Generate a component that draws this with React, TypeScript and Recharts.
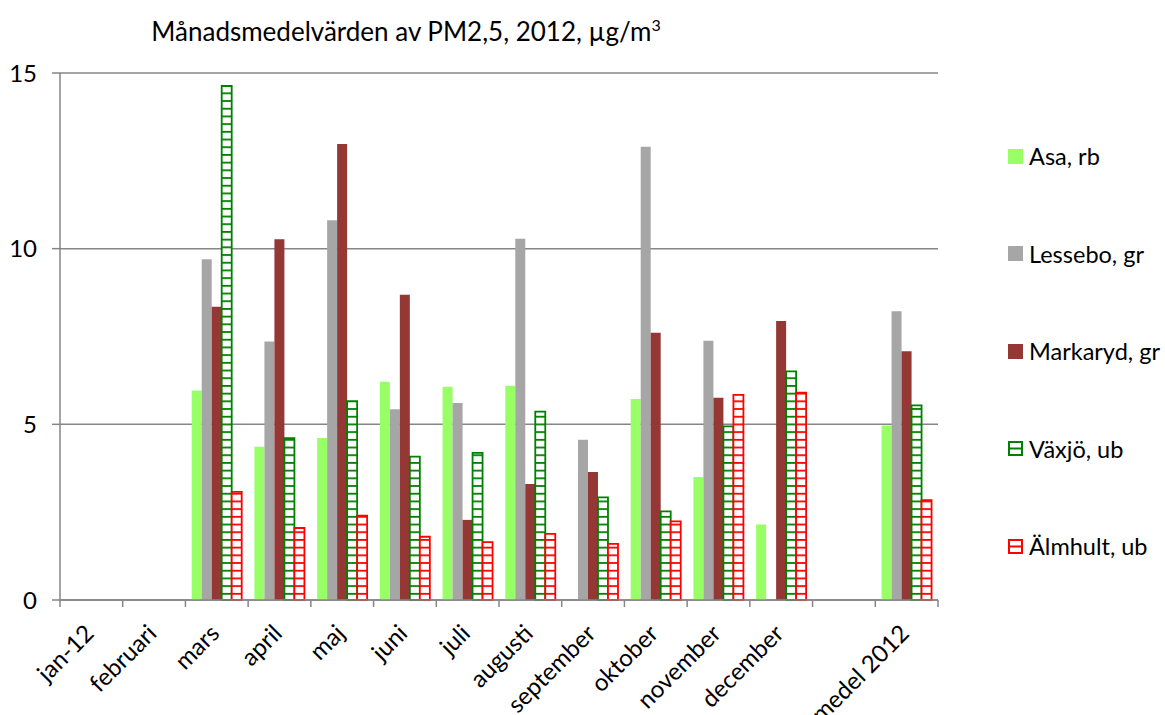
import React from "react";
import { Bar, BarChart, CartesianGrid, XAxis, YAxis } from "recharts";

// Monthly means of PM2.5, µg/m³, per station (null = no data)
const months = [
  "jan-12", "februari", "mars", "april", "maj", "juni", "juli",
  "augusti", "september", "oktober", "november", "december", "", "medel 2012",
];
const asa = [null, null, 5.96, 4.36, 4.61, 6.21, 6.07, 6.1, null, 5.72, 3.5, 2.15, null, 4.97];
const lessebo = [null, null, 9.7, 7.36, 10.81, 5.43, 5.61, 10.28, 4.56, 12.9, 7.38, null, null, 8.22];
const markaryd = [null, null, 8.35, 10.27, 12.98, 8.69, 2.28, 3.3, 3.64, 7.61, 5.76, 7.94, null, 7.08];
const vaxjo = [null, null, 14.63, 4.61, 5.66, 4.08, 4.19, 5.36, 2.92, 2.52, 4.94, 6.51, null, 5.54];
const almhult = [null, null, 3.08, 2.05, 2.4, 1.8, 1.65, 1.88, 1.6, 2.24, 5.84, 5.9, null, 2.84];
const yTicks = [0, 5, 10, 15];

const series = [
  { key: "asa", name: "Asa, rb", fill: "#99ff66" },
  { key: "lessebo", name: "Lessebo, gr", fill: "#a6a6a6" },
  { key: "markaryd", name: "Markaryd, gr", fill: "#953735" },
  { key: "vaxjo", name: "Växjö, ub", fill: "url(#hatchGreen)", stroke: "#008000" },
  { key: "almhult", name: "Älmhult, ub", fill: "url(#hatchRed)", stroke: "#ff0000" },
];

const data = months.map((m, i) => ({
  month: m,
  asa: asa[i],
  lessebo: lessebo[i],
  markaryd: markaryd[i],
  vaxjo: vaxjo[i],
  almhult: almhult[i],
}));

const W = 1165;
const H = 715;
const M = { top: 73, right: 227, bottom: 0, left: 0 };
const Y_W = 60;
const X_H = 115;
const PLOT_W = W - M.left - M.right - Y_W;
const BAND = PLOT_W / months.length;
const FONT = "Lato, 'Open Sans', sans-serif";
const AXIS = "#868686";

function MonthTick(props: any) {
  const { x, y, payload, index } = props;
  const tx = x + 4;
  const ty = y + 35;
  return (
    <g>
      <line x1={x - BAND / 2} x2={x - BAND / 2} y1={y} y2={y + 7} stroke={AXIS} strokeWidth={1.5} />
      {index === months.length - 1 && (
        <line x1={x + BAND / 2} x2={x + BAND / 2} y1={y} y2={y + 7} stroke={AXIS} strokeWidth={1.5} />
      )}
      <text
        x={tx}
        y={ty}
        transform={`rotate(-45 ${tx} ${ty})`}
        textAnchor="end"
        fontSize={24}
        fontFamily={FONT}
        fill="#000"
      >
        {payload.value}
      </text>
    </g>
  );
}

function Hatch({ id, color }: { id: string; color: string }) {
  return (
    <pattern id={id} patternUnits="userSpaceOnUse" width={8} height={7.7}>
      <rect width={8} height={7.7} fill="#fff" />
      <rect width={8} height={1.8} fill={color} />
    </pattern>
  );
}

export default function App() {
  return (
    <div style={{ position: "absolute", left: 0, top: 0, width: W, height: H, background: "#fff", fontFamily: FONT }}>
      <div
        style={{
          position: "absolute",
          left: 0,
          width: 812,
          top: 10,
          textAlign: "center",
          fontSize: 26,
          color: "#000",
          lineHeight: "30px",
        }}
      >
        Månadsmedelvärden av PM2,5, 2012, µg/m<sup style={{ fontSize: 16, verticalAlign: 10 }}>3</sup>
      </div>
      <BarChart
        width={W}
        height={H}
        data={data}
        margin={M}
        barCategoryGap="10%"
        barGap={0}
      >
        <defs>
          <Hatch id="hatchGreen" color="#008000" />
          <Hatch id="hatchRed" color="#ff0000" />
        </defs>
        <CartesianGrid vertical={false} stroke={AXIS} strokeWidth={1.5} />
        <XAxis
          dataKey="month"
          height={X_H}
          interval={0}
          tickLine={false}
          tickSize={0}
          tickMargin={0}
          axisLine={{ stroke: AXIS, strokeWidth: 1.5 }}
          tick={<MonthTick />}
        />
        <YAxis
          width={Y_W}
          domain={[0, 15]}
          ticks={yTicks}
          interval={0}
          tickSize={8}
          tickMargin={15}
          axisLine={{ stroke: AXIS, strokeWidth: 1.5 }}
          tickLine={{ stroke: AXIS, strokeWidth: 1.5 }}
          tick={{ fontSize: 24, fill: "#000", fontFamily: FONT }}
        />
        {series.map((s) => (
          <Bar
            key={s.key}
            dataKey={s.key}
            name={s.name}
            fill={s.fill}
            stroke={s.stroke}
            strokeWidth={s.stroke ? 1.8 : 0}
            isAnimationActive={false}
          />
        ))}
      </BarChart>
      <div style={{ position: "absolute", left: 1008, top: 0 }}>
        {series.map((s, i) => (
          <div
            key={s.key}
            style={{
              position: "absolute",
              top: 156 + i * 97.6 - 15,
              left: 0,
              height: 30,
              display: "flex",
              alignItems: "center",
              whiteSpace: "nowrap",
              fontSize: 23.5,
              color: "#000",
            }}
          >
            <svg width={15} height={15} style={{ marginRight: 6, flexShrink: 0 }}>
              <rect
                x={s.stroke ? 1 : 0}
                y={s.stroke ? 1 : 0}
                width={s.stroke ? 13 : 15}
                height={s.stroke ? 13 : 15}
                fill={s.stroke ? "#fff" : s.fill}
                stroke={s.stroke}
                strokeWidth={s.stroke ? 2 : 0}
              />
              {s.stroke && <line x1={1} x2={14} y1={7.5} y2={7.5} stroke={s.stroke} strokeWidth={2} />}
            </svg>
            {s.name}
          </div>
        ))}
      </div>
    </div>
  );
}
